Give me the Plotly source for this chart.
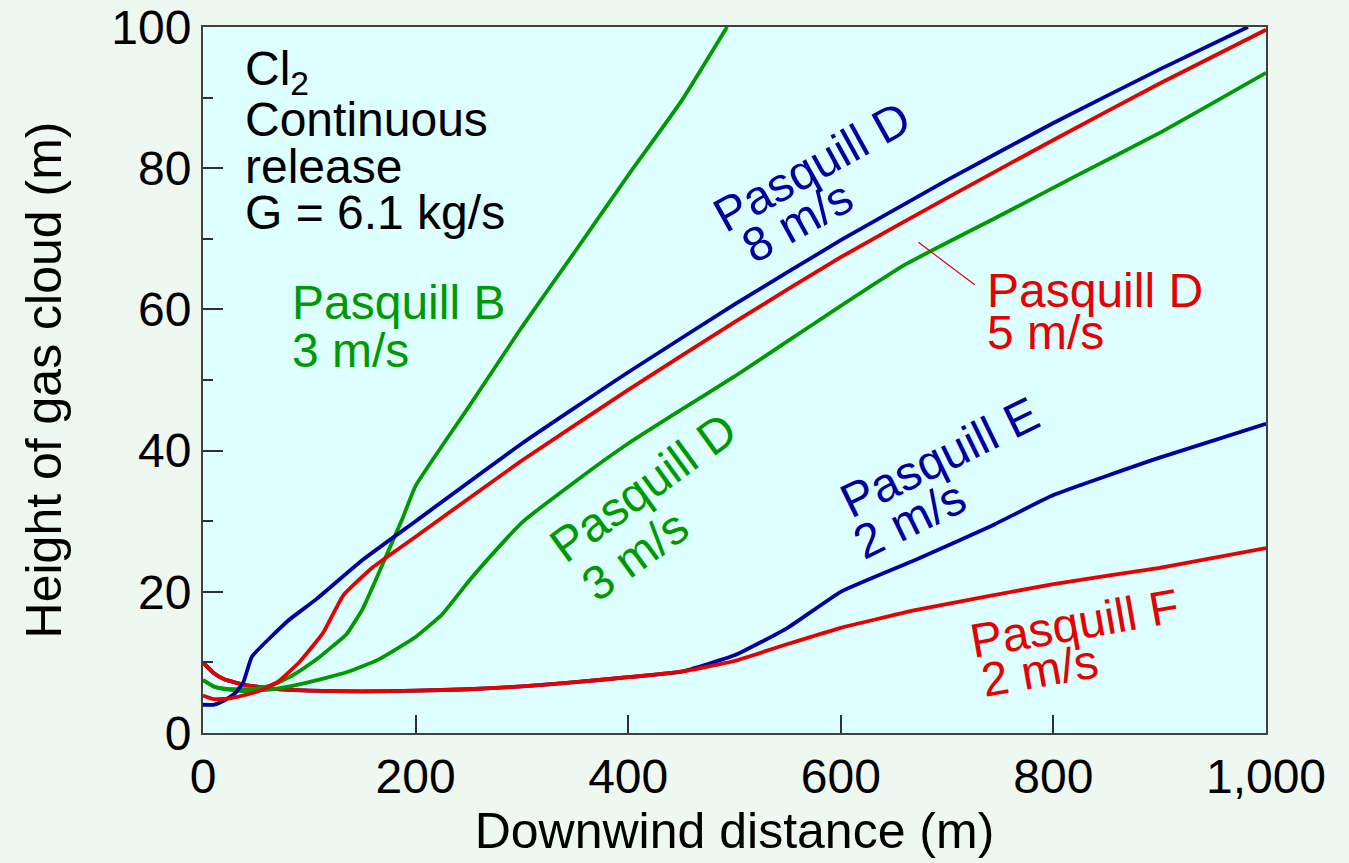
import plotly.graph_objects as go

# Pasquill B, 3 m/s (green)
b3_x = [0, 10, 20, 35, 50, 65, 80, 95, 110, 122, 135, 150, 162, 175, 188, 200, 250, 300, 350, 400, 450, 493]
b3_y = [7.5, 6.6, 6.3, 6.2, 6.3, 6.8, 7.8, 9.2, 10.8, 12.3, 14.0, 17.5, 21.5, 26.0, 30.5, 35.0, 46.2, 57.5, 68.2, 79.0, 89.5, 100.0]

# Pasquill D, 3 m/s (green)
d3_x = [0, 10, 20, 40, 70, 100, 135, 165, 200, 225, 250, 275, 300, 350, 400, 450, 500, 550, 600, 660, 750, 820, 900, 1000]
d3_y = [7.5, 6.6, 6.2, 5.9, 6.3, 7.2, 8.6, 10.4, 13.6, 16.8, 21.5, 25.8, 29.8, 35.6, 41.0, 45.8, 50.5, 55.5, 60.5, 66.3, 73.3, 78.8, 85.0, 93.5]

# Pasquill D, 8 m/s (blue)
d8_x = [0, 10, 20, 30, 38, 46, 80, 107, 150, 200, 300, 400, 500, 600, 700, 800, 900, 983]
d8_y = [4.0, 4.0, 4.6, 5.6, 7.2, 10.8, 15.9, 19.0, 24.5, 30.0, 41.0, 51.1, 60.7, 69.8, 78.3, 86.4, 94.0, 100.0]

# Pasquill D, 5 m/s (red)
d5_x = [0, 10, 25, 50, 70, 91, 113, 132, 160, 200, 300, 400, 500, 600, 700, 800, 900, 1000]
d5_y = [5.3, 4.8, 4.9, 5.8, 7.2, 10.1, 14.2, 19.5, 23.5, 27.8, 38.6, 48.6, 58.2, 67.4, 75.8, 84.0, 92.0, 99.6]

# Pasquill E, 2 m/s (blue)
e2_x = [0, 10, 20, 40, 70, 100, 150, 200, 250, 300, 350, 400, 450, 500, 550, 600, 670, 740, 800, 900, 1000]
e2_y = [10.0, 8.5, 7.6, 6.8, 6.2, 6.0, 5.9, 6.0, 6.2, 6.6, 7.2, 7.9, 8.7, 11.0, 14.9, 20.0, 24.5, 29.2, 33.7, 39.0, 43.8]

# Pasquill F, 2 m/s (red)
f2_x = [0, 10, 20, 40, 70, 100, 150, 200, 250, 300, 350, 400, 450, 500, 550, 600, 670, 800, 900, 1000]
f2_y = [10.0, 8.5, 7.6, 6.8, 6.2, 6.0, 5.9, 6.0, 6.2, 6.6, 7.2, 7.9, 8.7, 10.2, 12.6, 14.9, 17.4, 21.1, 23.4, 26.2]

GREEN = "#009900"
BLUE = "#0000A0"
RED = "#E60000"

series = [
    (e2_x, e2_y, BLUE, "Pasquill E 2 m/s"),
    (f2_x, f2_y, RED, "Pasquill F 2 m/s"),
    (d3_x, d3_y, GREEN, "Pasquill D 3 m/s"),
    (b3_x, b3_y, GREEN, "Pasquill B 3 m/s"),
    (d8_x, d8_y, BLUE, "Pasquill D 8 m/s"),
    (d5_x, d5_y, RED, "Pasquill D 5 m/s"),
]

fig = go.Figure()
for xs, ys, col, name in series:
    fig.add_trace(go.Scatter(x=xs, y=ys, mode="lines", name=name,
                             line=dict(color=col, width=3.8, shape="spline", smoothing=0.4),
                             showlegend=False))

FONT = "Liberation Sans, Arial, sans-serif"
LF = 48

def ann(text, x, y, color, angle=0, xanchor="center", size=LF):
    fig.add_annotation(x=x, y=y, text=text, showarrow=False, textangle=angle,
                       xanchor=xanchor, yanchor="middle",
                       font=dict(family=FONT, size=size, color=color))

# info block
ann("Cl<sub>2</sub>", 37.6, 93.6, "black", xanchor="left")
ann("Continuous", 37.6, 86.9, "black", xanchor="left")
ann("release", 37.6, 80.3, "black", xanchor="left")
ann("G = 6.1 kg/s", 37.6, 73.7, "black", xanchor="left")

# curve labels
ann("Pasquill B", 82, 61.0, GREEN, xanchor="left")
ann("3 m/s", 82, 54.2, GREEN, xanchor="left")
ann("Pasquill D", 573, 80.2, BLUE, angle=-29)
ann("8 m/s", 559, 72.4, BLUE, angle=-29)
ann("Pasquill D", 736, 62.7, RED, xanchor="left")
ann("5 m/s", 736, 56.7, RED, xanchor="left")
ann("Pasquill D", 414, 34.8, GREEN, angle=-36)
ann("3 m/s", 406, 25.2, GREEN, angle=-36)
ann("Pasquill E", 693, 39.0, BLUE, angle=-26)
ann("2 m/s", 665, 30.2, BLUE, angle=-26)
ann("Pasquill F", 820, 15.5, RED, angle=-10)
ann("2 m/s", 787, 8.9, RED, angle=-10)

# leader line for Pasquill D 5 m/s
fig.add_shape(type="line", x0=673, y0=69.5, x1=726, y1=63.5,
              line=dict(color=RED, width=1.2))

axis_common = dict(showgrid=False, zeroline=False, showline=True, mirror=True,
                   linecolor="#404040", linewidth=2, ticks="inside",
                   tickcolor="#303030", tickwidth=2, automargin=False,
                   tickfont=dict(family=FONT, size=48, color="black"))

fig.update_layout(
    width=1349, height=863,
    margin=dict(l=203, r=83, t=27, b=130),
    paper_bgcolor="#EEF7F0",
    plot_bgcolor="#DEFFFF",
    font=dict(family=FONT, color="black"),
    xaxis=dict(range=[0, 1000], tickvals=[0, 200, 400, 600, 800, 1000],
               tickformat=",", ticklen=18,
               title=dict(text="Downwind distance (m)", font=dict(family=FONT, size=50, color="black"), standoff=6),
               **axis_common),
    yaxis=dict(range=[0, 100], dtick=20, ticklen=20,
               minor=dict(dtick=10, ticklen=10, ticks="inside", tickcolor="#303030", tickwidth=2),
               title=dict(text="Height of gas cloud (m)", font=dict(family=FONT, size=50, color="black"), standoff=34),
               **axis_common),
)

fig.write_html("out.html")
